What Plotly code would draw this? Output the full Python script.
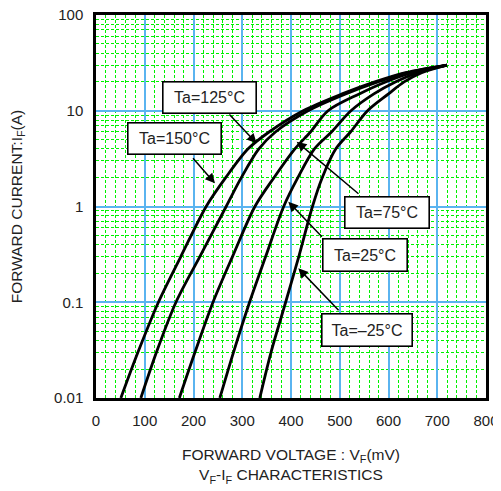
import plotly.graph_objects as go

# ---- data (forward voltage in mV at given forward currents in A) ----
current_A = [0.01, 0.03, 0.1, 0.3, 1, 2, 4, 6, 10, 15, 20, 25, 30]
vf_150 = [51, 86, 128, 174, 226, 266, 312, 355, 425, 505, 572, 635, 720]
vf_125 = [92, 124, 164, 213, 267, 298, 334, 368, 435, 512, 578, 640, 720]
vf_75 = [171, 203, 240, 280, 326, 365, 408, 440, 476, 540, 594, 648, 720]
vf_25 = [254, 282, 315, 348, 385, 414, 448, 483, 523, 570, 614, 660, 720]
vf_m25 = [336, 359, 389, 416, 444, 464, 492, 522, 557, 600, 632, 668, 720]

series = [vf_150, vf_125, vf_75, vf_25, vf_m25]

x_ticks = [0, 100, 200, 300, 400, 500, 600, 700, 800]
y_tickvals = [0.01, 0.1, 1, 10, 100]
y_ticktext = ["0.01", "0.1", "1", "10", "100"]

FONT = "Liberation Sans, Arial, sans-serif"
BLUE = "#5AB4F0"
GREEN = "#00F000"

fig = go.Figure()
for vf in series:
    fig.add_trace(go.Scatter(
        x=vf, y=current_A, mode="lines",
        line=dict(color="black", width=2.8, shape="spline", smoothing=0.9),
        showlegend=False, hoverinfo="skip"))

y_minor = [m * 10 ** e for e in range(-2, 2) for m in range(2, 10)]

fig.update_xaxes(
    range=[0, 800], tickvals=x_ticks, ticks="", showgrid=True,
    gridcolor=BLUE, gridwidth=1.5, zeroline=False, automargin=False,
    showline=True, linecolor="black", linewidth=2.5, mirror=True,
    ticklabelstandoff=7, ticklabeloverflow="allow",
    minor=dict(dtick=20, showgrid=True, gridcolor=GREEN, gridwidth=1,
               griddash="3px,2px", ticks=""),
    tickfont=dict(family=FONT, size=15, color="#222"),
    title=dict(text="FORWARD VOLTAGE : V<sub>F</sub>(mV)<br>V<sub>F</sub>-I<sub>F</sub> CHARACTERISTICS",
               font=dict(family=FONT, size=15.5, color="#222"), standoff=22),
)
fig.update_yaxes(
    type="log", range=[-2, 2], tickvals=y_tickvals, ticktext=y_ticktext,
    ticks="", showgrid=True, gridcolor=BLUE, gridwidth=1.5, zeroline=False,
    automargin=False, ticklabelstandoff=7, ticklabeloverflow="allow",
    showline=True, linecolor="black", linewidth=2.5, mirror=True,
    minor=dict(tickmode="array", tickvals=y_minor, showgrid=True,
               gridcolor=GREEN, gridwidth=1, griddash="3px,2px", ticks=""),
    tickfont=dict(family=FONT, size=15, color="#222"),
    title=dict(text="FORWARD CURRENT:I<sub>F</sub>(A)",
               font=dict(family=FONT, size=15.5, color="#222"), standoff=28),
)

# label boxes: (text, x center mV, y center log10, box width px, box height px)
labels = [
    ("Ta=125°C", 233.8, 1.1436, 95, 33),
    ("Ta=150°C", 161.0, 0.710, 95, 33),
    ("Ta=75°C", 597.0, -0.0627, 86, 33),
    ("Ta=25°C", 551.8, -0.5065, 86, 34),
    ("Ta=–25°C", 555.9, -1.2898, 92, 34),
]
# arrows: (head x, head ylog, tail x, tail ylog)
arrows = [
    (329.6, 0.660, 270.8, 0.9765),
    (244.1, 0.2423, 196.3, 0.520),
    (411.7, 0.677, 541.5, 0.120),
    (394.5, 0.050, 466.3, -0.332),
    (415.0, -0.6455, 500.5, -1.099),
]
for hx, hy, tx, ty in arrows:
    fig.add_annotation(x=hx, y=hy, ax=tx, ay=ty, xref="x", yref="y",
                       axref="x", ayref="y", text="", showarrow=True,
                       arrowhead=2, arrowsize=1.3, arrowwidth=1.5,
                       arrowcolor="black")
bw, pad = 1.6, 2
for text, cx, cy, w, h in labels:
    fig.add_annotation(x=cx, y=cy, xref="x", yref="y", text=text,
                       showarrow=False, bgcolor="white", bordercolor="black",
                       borderwidth=bw, borderpad=pad,
                       width=w - 2 * pad - 2 * bw, height=h - 2 * pad - 2 * bw,
                       font=dict(family=FONT, size=16, color="#222"))

# the page places the figure 8px from the top-left corner
fig.update_layout(
    width=493, height=483, autosize=False,
    margin=dict(l=88, r=15, t=7, b=93),
    paper_bgcolor="white", plot_bgcolor="white",
)
fig.write_html("out.html")
